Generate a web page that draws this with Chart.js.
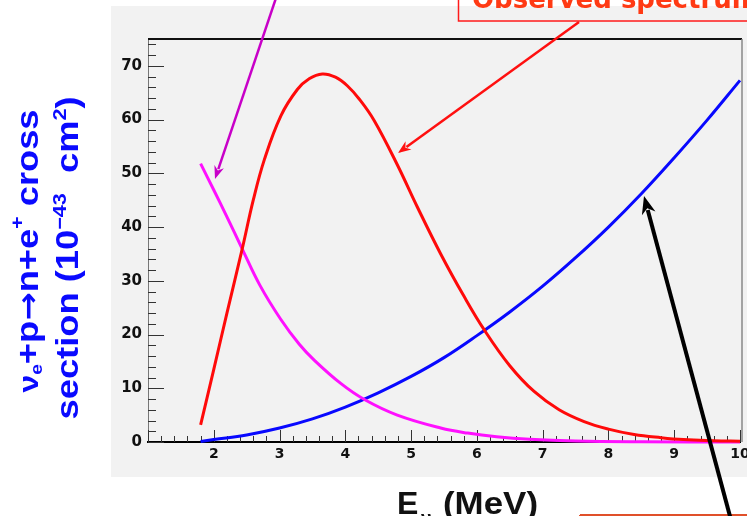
<!DOCTYPE html>
<html><head><meta charset="utf-8">
<script src="https://cdn.jsdelivr.net/npm/chart.js@4"></script>
<style>html,body{margin:0;padding:0;background:#fff;overflow:hidden}canvas{display:block}</style>
</head><body>
<canvas id="c" width="747" height="516"></canvas>
<script>
// ---- data ----
const fluxEnergy = [1.8, 2.0, 2.2, 2.43, 2.7, 3.02, 3.3, 3.53, 3.93, 4.29, 4.79, 5.45, 5.86, 6.3, 6.8, 7.5, 8.5, 10];
const fluxValues = [51.8, 46.9, 41.9, 36.0, 29.2, 22.8, 18.2, 15.2, 10.9, 7.9, 5.0, 2.6, 1.66, 0.98, 0.51, 0.19, 0.05, 0];

const spectrumEnergy = [1.8, 2.0, 2.2, 2.43, 2.6, 2.77, 3.02, 3.27, 3.45, 3.65, 3.85, 4.03, 4.22, 4.44, 4.79, 5.1, 5.45, 5.8, 6.11, 6.5, 6.87, 7.25, 7.63, 8.0, 8.39, 8.8, 9.14, 9.6, 10];
const spectrumValues = [3.2, 13.5, 24.0, 35.8, 45.0, 52.6, 60.7, 65.6, 67.6, 68.5, 67.9, 66.3, 63.7, 59.8, 51.6, 43.6, 35.0, 27.2, 20.9, 14.2, 9.4, 6.0, 3.8, 2.4, 1.4, 0.8, 0.45, 0.25, 0.15];

const crossEnergy = [1.8, 2.0, 2.5, 3.0, 3.5, 4.0, 4.5, 5.0, 5.5, 6.0, 6.5, 7.0, 7.5, 8.0, 8.5, 9.0, 9.5, 10];
const crossValues = [0.1, 0.45, 1.3, 2.6, 4.3, 6.5, 9.15, 12.2, 15.7, 19.8, 24.2, 29.0, 34.3, 40.0, 46.2, 52.9, 59.9, 67.3];

const xTickLabels = [2, 3, 4, 5, 6, 7, 8, 9, 10];
const yTickLabels = [0, 10, 20, 30, 40, 50, 60, 70];

const LIB = '"Liberation Sans", Arial, sans-serif';
const DJV = '"DejaVu Sans", sans-serif';
const yTitleLine1 = [['ν', 28, 0, LIB], ['e', 17, 4, LIB], ['+p', 32, 0, LIB], ['→', 30, 0, DJV], ['n+e', 32, 0, LIB], ['+', 19, -15, LIB], [' cross', 32, 0, LIB]];
const yTitleLine2 = [['section (10', 32, 0, LIB], ['−43', 19, -12, LIB], ['  cm', 32, 0, LIB], ['2', 19, -12, LIB], [')', 32, 0, LIB]];
const xTitleMain = 'E';
const xTitleSub = 'ν';
const xTitleUnit = '(MeV)';
const calloutText = 'Observed spectrum';

function pts(xs, ys) { return xs.map((x, i) => ({ x: x, y: ys[i] })); }

function drawArrow(ctx, x1, y1, x2, y2, color, w, hl, hw) {
  const a = Math.atan2(y2 - y1, x2 - x1);
  const bx = x2 - Math.cos(a) * hl * 0.8, by = y2 - Math.sin(a) * hl * 0.8;
  ctx.save();
  ctx.strokeStyle = color; ctx.fillStyle = color; ctx.lineWidth = w; ctx.lineCap = 'butt';
  ctx.beginPath(); ctx.moveTo(x1, y1); ctx.lineTo(bx, by); ctx.stroke();
  ctx.beginPath();
  ctx.moveTo(x2, y2);
  ctx.lineTo(x2 - Math.cos(a) * hl - Math.sin(a) * hw, y2 - Math.sin(a) * hl + Math.cos(a) * hw);
  ctx.lineTo(x2 - Math.cos(a) * hl * 0.7, y2 - Math.sin(a) * hl * 0.7);
  ctx.lineTo(x2 - Math.cos(a) * hl + Math.sin(a) * hw, y2 - Math.sin(a) * hl - Math.cos(a) * hw);
  ctx.closePath(); ctx.fill();
  ctx.restore();
}

function drawRichVertical(ctx, segs, baseX, cy, targetLen, color) {
  ctx.save();
  ctx.fillStyle = color;
  ctx.textBaseline = 'alphabetic';
  let total = 0;
  segs.forEach(s => { ctx.font = 'bold ' + s[1] + 'px ' + s[3]; total += ctx.measureText(s[0]).width; });
  const k = targetLen / total;
  ctx.translate(baseX, cy);
  ctx.rotate(-Math.PI / 2);
  ctx.scale(k, 1);
  let x = -total / 2;
  segs.forEach(s => {
    ctx.font = 'bold ' + s[1] + 'px ' + s[3];
    ctx.fillText(s[0], x, s[2]);
    x += ctx.measureText(s[0]).width;
  });
  ctx.restore();
}

const decor = {
  id: 'decor',
  beforeDraw(chart) {
    const ctx = chart.ctx;
    ctx.save();
    ctx.fillStyle = '#ffffff'; ctx.fillRect(0, 0, chart.width, chart.height);
    ctx.fillStyle = '#f2f2f2'; ctx.fillRect(111, 6, chart.width - 111, 471);
    ctx.restore();
  },
  beforeDatasetsDraw(chart) {
    const ctx = chart.ctx, xs = chart.scales.x, ys = chart.scales.y, ca = chart.chartArea;
    ctx.save();
    ctx.strokeStyle = '#333'; ctx.lineWidth = 1;
    ctx.beginPath();
    for (let i = 5; i <= 50; i++) {
      const v = i / 5, x = Math.round(xs.getPixelForValue(v)) + 0.5;
      const len = (i % 5 === 0) ? 12 : 6;
      ctx.moveTo(x, ca.bottom); ctx.lineTo(x, ca.bottom - len);
    }
    for (let v = 0; v <= 74; v += 2) {
      const y = Math.round(ys.getPixelForValue(v)) + 0.5;
      const len = (v % 10 === 0) ? 16 : 8;
      ctx.moveTo(ca.left, y); ctx.lineTo(ca.left + len, y);
    }
    ctx.stroke();
    ctx.strokeStyle = '#111'; ctx.lineWidth = 2;
    ctx.beginPath(); ctx.moveTo(ca.left, ca.top); ctx.lineTo(ca.right + 2, ca.top); ctx.stroke();
    ctx.strokeStyle = '#888'; ctx.lineWidth = 1.5;
    ctx.beginPath(); ctx.moveTo(ca.right + 2, ca.top); ctx.lineTo(ca.right + 2, ca.bottom); ctx.stroke();
    ctx.restore();
  },
  afterDraw(chart) {
    const ctx = chart.ctx;
    drawRichVertical(ctx, yTitleLine1, 38, 251, 283, '#0a0aff');
    drawRichVertical(ctx, yTitleLine2, 78, 258, 323, '#0a0aff');
    ctx.save();
    ctx.fillStyle = '#111';
    ctx.textBaseline = 'alphabetic';
    ctx.font = 'bold 32px ' + LIB;
    ctx.fillText(xTitleMain, 397, 514);
    ctx.font = 'bold 19px ' + LIB;
    ctx.fillText(xTitleSub, 421, 524);
    ctx.font = 'bold 32px ' + LIB;
    const uw = ctx.measureText(xTitleUnit).width;
    ctx.translate(443, 514); ctx.scale(95 / uw, 1);
    ctx.fillText(xTitleUnit, 0, 0);
    ctx.restore();
    ctx.save();
    ctx.strokeStyle = '#ff1a1a'; ctx.lineWidth = 1.5;
    ctx.strokeRect(458.5, -10, 320, 31);
    ctx.fillStyle = '#ff3a14';
    ctx.font = 'bold 26px ' + DJV;
    ctx.textBaseline = 'alphabetic';
    ctx.fillText(calloutText, 472, 8);
    ctx.strokeStyle = '#e0502a'; ctx.lineWidth = 2;
    ctx.beginPath(); ctx.moveTo(580, 515); ctx.lineTo(760, 515); ctx.moveTo(580, 515); ctx.lineTo(580, 530); ctx.stroke();
    ctx.restore();
    drawArrow(ctx, 276, -2, 215, 179, '#c800c8', 2.5, 13, 5);
    drawArrow(ctx, 579, 22, 398, 153, '#ff1010', 2.5, 13, 5);
    drawArrow(ctx, 731, 520, 644, 196, '#000000', 4, 18, 7);
  }
};

new Chart(document.getElementById('c'), {
  type: 'line',
  data: {
    datasets: [
      { label: 'cross section', data: pts(crossEnergy, crossValues), borderColor: '#0808ff', order: 3 },
      { label: 'observed spectrum', data: pts(spectrumEnergy, spectrumValues), borderColor: '#ff0a0a', order: 1 },
      { label: 'flux', data: pts(fluxEnergy, fluxValues), borderColor: '#ff10ff', order: 2 }
    ]
  },
  options: {
    responsive: false,
    animation: false,
    devicePixelRatio: 1,
    layout: { padding: { left: 111, right: 7, top: 39, bottom: 39 } },
    elements: {
      line: { borderWidth: 3, tension: 0.4, fill: false, capBezierPoints: true },
      point: { radius: 0 }
    },
    datasets: { line: { clip: 6 } },
    plugins: { legend: { display: false }, tooltip: { enabled: false }, title: { display: false } },
    scales: {
      x: {
        type: 'linear', min: 1, max: 10,
        afterBuildTicks: s => { s.ticks = xTickLabels.map(v => ({ value: v })); },
        afterFit: s => { s.height = 35; s.paddingLeft = 0; s.paddingRight = 0; s.paddingTop = 0; s.paddingBottom = 0; },
        grid: { display: false, drawTicks: false },
        border: { display: true, color: '#000', width: 2 },
        ticks: { color: '#111', padding: 4, maxRotation: 0, autoSkip: false, font: { family: DJV, size: 14, weight: 'bold' }, callback: v => String(v) }
      },
      y: {
        type: 'linear', min: 0, max: 75,
        afterBuildTicks: s => { s.ticks = yTickLabels.map(v => ({ value: v })); },
        afterFit: s => { s.width = 37; s.paddingLeft = 0; s.paddingRight = 0; s.paddingTop = 0; s.paddingBottom = 0; },
        grid: { display: false, drawTicks: false },
        border: { display: true, color: '#777', width: 1 },
        ticks: { color: '#111', padding: 6, autoSkip: false, font: { family: DJV, size: 15, weight: 'bold' }, callback: v => String(v) }
      }
    }
  },
  plugins: [decor]
});
</script>
</body></html>
